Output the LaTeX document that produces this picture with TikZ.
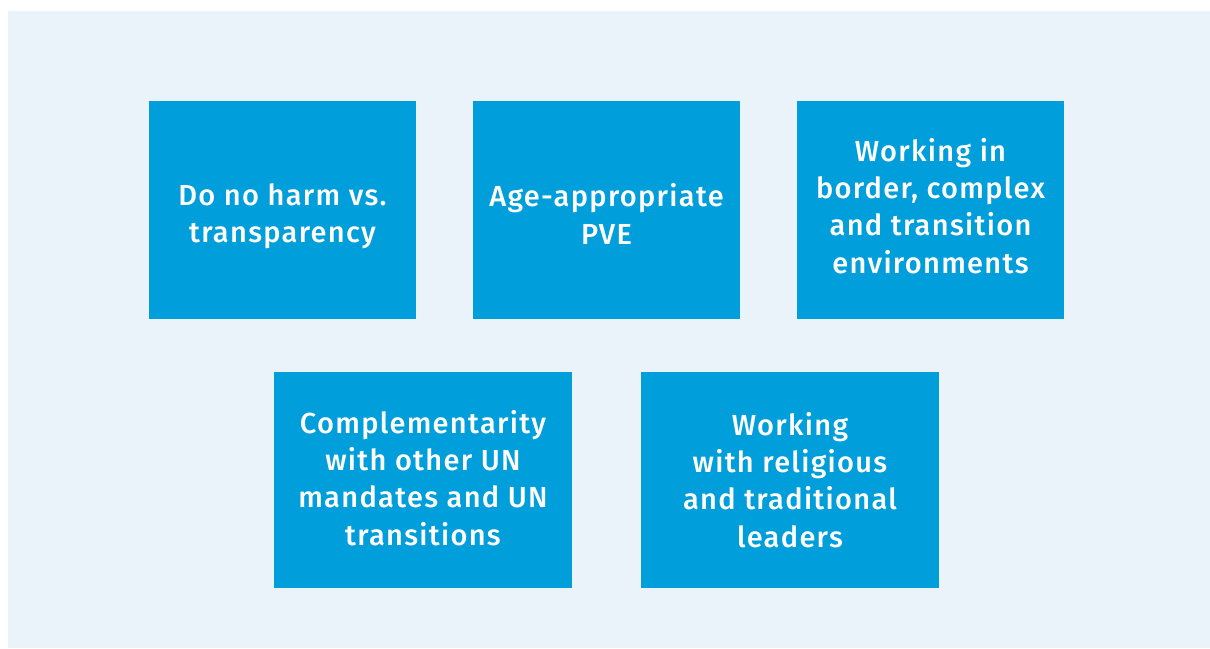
\documentclass[tikz,border=0pt]{standalone}
\usepackage{fontspec}
\setmainfont{Fira Sans}[BoldFont={Fira Sans Medium},BoldFeatures={LetterSpace=4.5}]
\definecolor{bgblue}{HTML}{EAF2FA}
\definecolor{boxblue}{HTML}{009EDB}
\begin{document}
\begin{tikzpicture}[x=1pt,y=-1pt,
  card/.style={fill=boxblue, draw=none, inner sep=0pt, text=white,
    font=\bfseries\fontsize{29}{37.3}\selectfont, align=center}]
\useasboundingbox (0,0) rectangle (1210,648);
\fill[bgblue] (8,11) rectangle (1210,648);
\newcommand{\card}[7]{%
  \fill[boxblue] (#2,#3) rectangle (#4,#5);
  \node[card, fill=none] (#1) at ({(#2+#4)/2},{(#3+#5)/2+#6}) {#7};}
\card{a}{149}{101}{416}{319}{6}{Do no harm vs.\\transparency}
\card{b}{473}{101}{740}{319}{4}{Age-appropriate\\PVE}
\card{c}{797}{101}{1064}{319}{-4}{Working in\\border, complex\\and transition\\environments}
\card{d}{274}{372}{572}{588}{-2}{Complementarity\\with other UN\\mandates and UN\\transitions}
\card{e}{641}{372}{939}{588}{0}{Working\\with religious\\and traditional\\leaders}
\end{tikzpicture}
\end{document}
